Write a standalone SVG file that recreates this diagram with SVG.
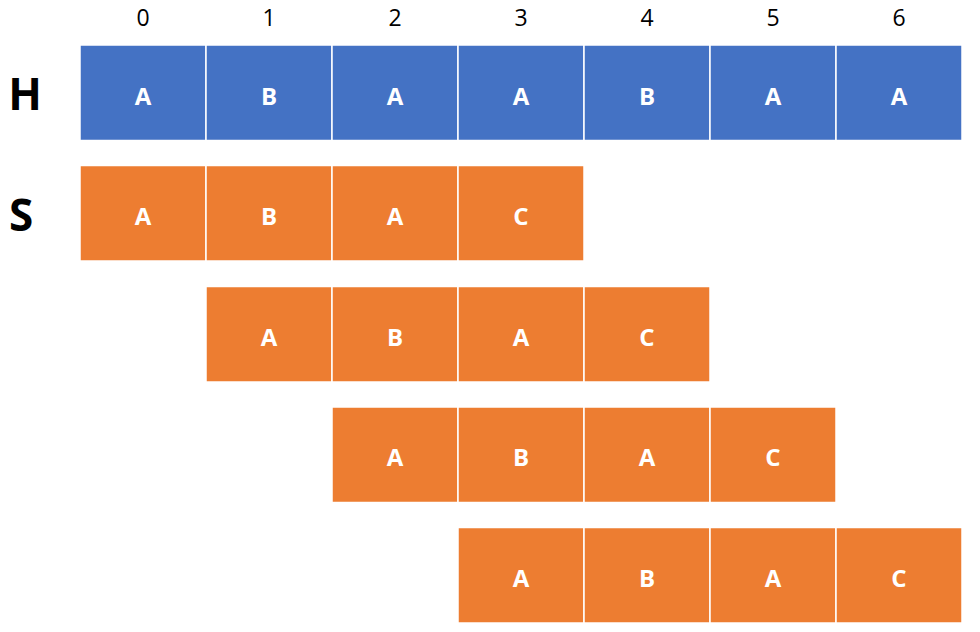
<svg xmlns="http://www.w3.org/2000/svg" width="980" height="632" viewBox="0 0 980 632">
<style>
.h rect{fill:#4472C4;stroke:#fff;stroke-width:1.5}
.s rect{fill:#ED7D31;stroke:#fff;stroke-width:1.5}
.c{font-family:"Open Sans","Liberation Sans",sans-serif;font-weight:bold;font-size:24px;fill:#fff;text-anchor:middle}
.n{font-family:"Open Sans","Liberation Sans",sans-serif;font-size:23px;fill:#000;text-anchor:middle}
.l{font-family:"Open Sans","Liberation Sans",sans-serif;font-weight:bold;font-size:44px;fill:#000;text-anchor:middle}
</style>
<g id="indices">
<text class="n" x="143" y="26">0</text>
<text class="n" x="269" y="26">1</text>
<text class="n" x="395" y="26">2</text>
<text class="n" x="521" y="26">3</text>
<text class="n" x="647" y="26">4</text>
<text class="n" x="773" y="26">5</text>
<text class="n" x="899" y="26">6</text>
</g>
<g id="labels">
<text class="l" x="25" y="110">H</text>
<text class="l" x="21" y="231">S</text>
</g>
<g id="H" class="h">
<rect x="80" y="45" width="126" height="95.5"/><text class="c" x="143" y="105">A</text>
<rect x="206" y="45" width="126" height="95.5"/><text class="c" x="269" y="105">B</text>
<rect x="332" y="45" width="126" height="95.5"/><text class="c" x="395" y="105">A</text>
<rect x="458" y="45" width="126" height="95.5"/><text class="c" x="521" y="105">A</text>
<rect x="584" y="45" width="126" height="95.5"/><text class="c" x="647" y="105">B</text>
<rect x="710" y="45" width="126" height="95.5"/><text class="c" x="773" y="105">A</text>
<rect x="836" y="45" width="126" height="95.5"/><text class="c" x="899" y="105">A</text>
</g>
<g id="S0" class="s">
<rect x="80" y="165.5" width="126" height="95.5"/><text class="c" x="143" y="225">A</text>
<rect x="206" y="165.5" width="126" height="95.5"/><text class="c" x="269" y="225">B</text>
<rect x="332" y="165.5" width="126" height="95.5"/><text class="c" x="395" y="225">A</text>
<rect x="458" y="165.5" width="126" height="95.5"/><text class="c" x="521" y="225">C</text>
</g>
<g id="S1" class="s">
<rect x="206" y="286.5" width="126" height="95.5"/><text class="c" x="269" y="346">A</text>
<rect x="332" y="286.5" width="126" height="95.5"/><text class="c" x="395" y="346">B</text>
<rect x="458" y="286.5" width="126" height="95.5"/><text class="c" x="521" y="346">A</text>
<rect x="584" y="286.5" width="126" height="95.5"/><text class="c" x="647" y="346">C</text>
</g>
<g id="S2" class="s">
<rect x="332" y="407" width="126" height="95.5"/><text class="c" x="395" y="466">A</text>
<rect x="458" y="407" width="126" height="95.5"/><text class="c" x="521" y="466">B</text>
<rect x="584" y="407" width="126" height="95.5"/><text class="c" x="647" y="466">A</text>
<rect x="710" y="407" width="126" height="95.5"/><text class="c" x="773" y="466">C</text>
</g>
<g id="S3" class="s">
<rect x="458" y="527.5" width="126" height="95.5"/><text class="c" x="521" y="587">A</text>
<rect x="584" y="527.5" width="126" height="95.5"/><text class="c" x="647" y="587">B</text>
<rect x="710" y="527.5" width="126" height="95.5"/><text class="c" x="773" y="587">A</text>
<rect x="836" y="527.5" width="126" height="95.5"/><text class="c" x="899" y="587">C</text>
</g>
<g id="connectors"/>
</svg>
